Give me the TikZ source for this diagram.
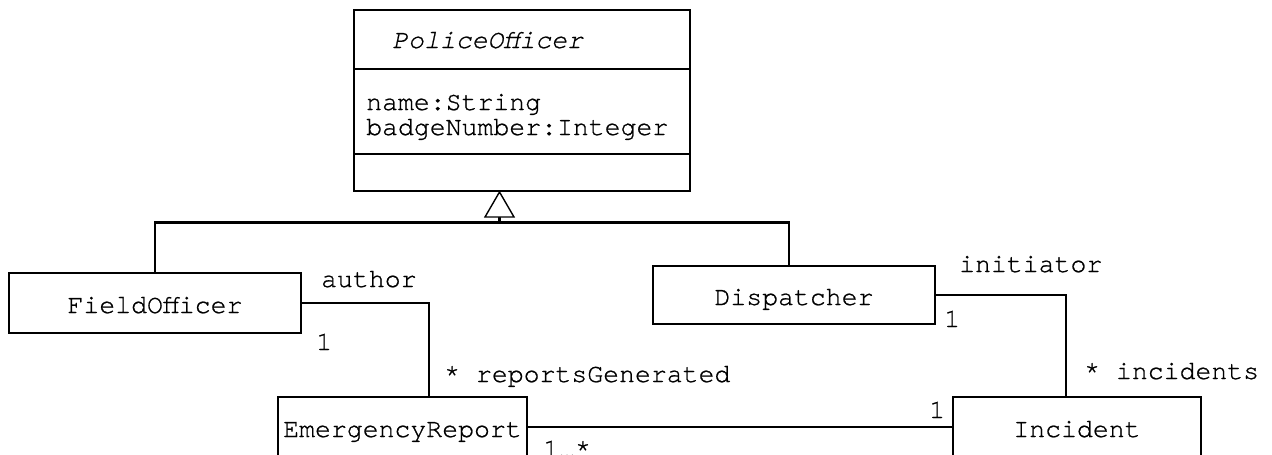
\documentclass[tikz,border=0pt]{standalone}
\usepackage{fontspec}
\setmainfont{TeX Gyre Cursor}[FakeBold=0.8]
\usetikzlibrary{calc}
\tikzset{
  umlfont/.style={font=\fontsize{26.5}{25}\selectfont},
  classbox/.style={draw=black, line width=1.4pt, rectangle, inner sep=0pt,
    text height=20pt, text depth=0pt, umlfont},
  assoc/.style={draw=black, line width=2.3pt},
  genline/.style={draw=black, line width=2.3pt},
  lbl/.style={inner sep=0pt, anchor=base west, umlfont},
}
\begin{document}
\begin{tikzpicture}[x=1pt, y=-1pt]
  \useasboundingbox (0,0) rectangle (1272,455);
  \clip (0,0) rectangle (1272,455);

  % abstract superclass with three compartments
  \node[classbox, minimum width=336pt, minimum height=181pt] (PO) at (522,100.5) {};
  \draw[line width=1.4pt] (354,69) -- (690,69);
  \draw[line width=1.4pt] (354,154) -- (690,154);
  \node[lbl, font=\fontsize{26.5}{25}\itshape] (POname) at (392,48) {PoliceOfficer};
  \node[lbl] (POattr1) at (366,110) {name:String};
  \node[lbl] (POattr2) at (366,135) {badgeNumber:Integer};

  % subclasses and associated classes
  \node[classbox, minimum width=292pt, minimum height=60pt] (FO) at (155,303) {FieldOfficer};
  \node[classbox, minimum width=282pt, minimum height=58pt] (DI) at (794,295) {Dispatcher};
  \node[classbox, minimum width=249pt, minimum height=60pt] (ER) at (402.5,427) {EmergencyReport};
  \node[classbox, minimum width=248pt, minimum height=60pt] (IN) at (1077,427) {Incident};

  % generalization: hollow triangle under the superclass
  \coordinate (gen) at (499.5,192);
  \coordinate (genbase) at (499.5,217);
  \coordinate (genjoin) at (499.5,222.5);
  \draw[genline] (FO.north) |- (genjoin) -- (genbase);
  \draw[genline] ([xshift=-5pt]DI.north) |- (genjoin);
  \draw[line width=1.4pt, fill=white] (gen) -- ++(-14.5,25) -- ++(29,0) -- cycle;

  % associations
  \draw[assoc] (FO.east) -| ([xshift=26.5pt]ER.north);
  \draw[assoc] (DI.east) -| ([xshift=-11pt]IN.north);
  \draw[assoc] (ER.east) -- (IN.west);

  % role names and multiplicities
  \node[lbl] (rAuthor) at (321,287) {author};
  \node[lbl] (mFO) at (316,350) {1};
  \node[lbl] (rReports) at (444,382) {* reportsGenerated};
  \node[lbl] (rInit) at (959,272) {initiator};
  \node[lbl] (mDI) at (944,327) {1};
  \node[lbl] (rInc) at (1084,379) {* incidents};
  \node[lbl] (mIN) at (929,418) {1};
  \node[lbl] (mER) at (543,457) {1…*};
\end{tikzpicture}
\end{document}
